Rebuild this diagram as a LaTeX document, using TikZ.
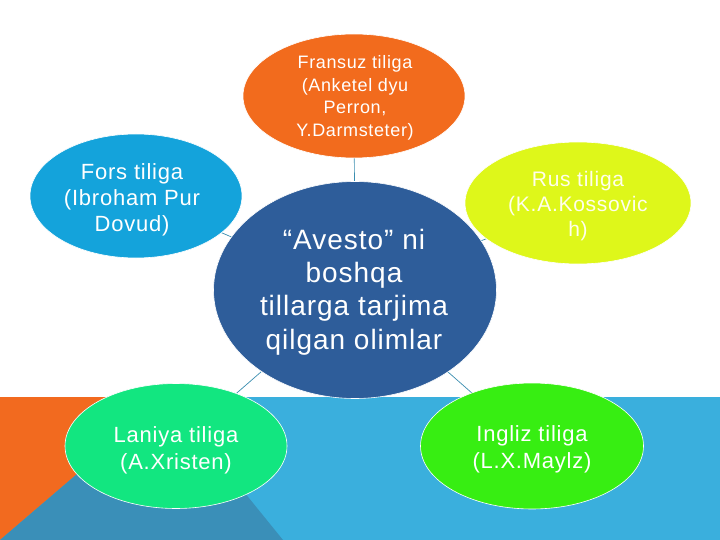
\documentclass[tikz,border=0pt]{standalone}
\usepackage{fontspec}
\setmainfont{Liberation Sans}[LetterSpace=3.5]
\usetikzlibrary{shapes.geometric}
\definecolor{bandorange}{HTML}{F26A1F}
\definecolor{bandblue}{HTML}{3AAFDD}
\definecolor{bandteal}{HTML}{3A8FB8}
\definecolor{cblue}{HTML}{2E5D9A}
\definecolor{corange}{HTML}{F26B1D}
\definecolor{cfors}{HTML}{14A3DB}
\definecolor{crus}{HTML}{DEF71A}
\definecolor{claniya}{HTML}{12E680}
\definecolor{cingliz}{HTML}{37EE12}
\definecolor{cline}{HTML}{3B8EB0}
\tikzset{
  bubble/.style={ellipse, draw=white, line width=0.6pt, inner sep=0pt},
  btext/.style={inner sep=0pt, text=white, align=center},
  conn/.style={draw=cline, line width=0.7pt}
}
\begin{document}
\begin{tikzpicture}[x=1pt,y=-1pt]
\useasboundingbox (0,0) rectangle (720,540);
\fill[white] (0,0) rectangle (720,540);
% bottom band
\fill[bandblue] (0,397) rectangle (720,540);
\fill[bandorange] (0,397) -- (167,397) -- (0,540) -- cycle;
\fill[bandteal] (0,540) -- (167,397) -- (283,540) -- cycle;
% node centres
\coordinate (pc) at (355,290);
\coordinate (pt) at (354,96);
\coordinate (pf) at (136,196);
\coordinate (pr) at (578,203);
\coordinate (pl) at (176,446);
\coordinate (pi) at (532,446);
% connectors
\draw[conn] (pc) -- (pt);
\draw[conn] (pc) -- (pf);
\draw[conn] (pc) -- (pr);
\draw[conn] (pc) -- (pl);
\draw[conn] (pc) -- (pi);
% bubbles
\node[bubble, fill=cblue, minimum width=283pt, minimum height=217pt] (centre) at (pc) {};
\node[bubble, fill=corange, minimum width=222pt, minimum height=124pt] (fransuz) at (pt) {};
\node[bubble, fill=cfors, minimum width=212pt, minimum height=124pt] (fors) at (pf) {};
\node[bubble, fill=crus, minimum width=226pt, minimum height=122pt] (rus) at (pr) {};
\node[bubble, fill=claniya, minimum width=222pt, minimum height=125pt] (laniya) at (pl) {};
\node[bubble, fill=cingliz, minimum width=223pt, minimum height=126pt] (ingliz) at (pi) {};
% texts
\node[btext, font=\fontsize{28}{33.3}\selectfont] (centre-t) at (354,292)
  {“Avesto” ni\\boshqa\\tillarga tarjima\\qilgan olimlar};
\node[btext, font=\fontsize{18}{22.5}\selectfont] (fransuz-t) at (355,98)
  {Fransuz tiliga\\(Anketel dyu\\Perron,\\Y.Darmsteter)};
\node[btext, font=\fontsize{22}{26}\selectfont] (fors-t) at (132,200)
  {Fors tiliga\\(Ibroham Pur\\Dovud)};
\node[btext, font=\fontsize{21}{25}\selectfont, text=white!92!yellow] (rus-t) at (578,206)
  {Rus tiliga\\(K.A.Kossovic\\h)};
\node[btext, font=\fontsize{22}{27}\selectfont] (laniya-t) at (176,450)
  {Laniya tiliga\\(A.Xristen)};
\node[btext, font=\fontsize{22}{27}\selectfont] (ingliz-t) at (532,449)
  {Ingliz tiliga\\(L.X.Maylz)};
\end{tikzpicture}
\end{document}
